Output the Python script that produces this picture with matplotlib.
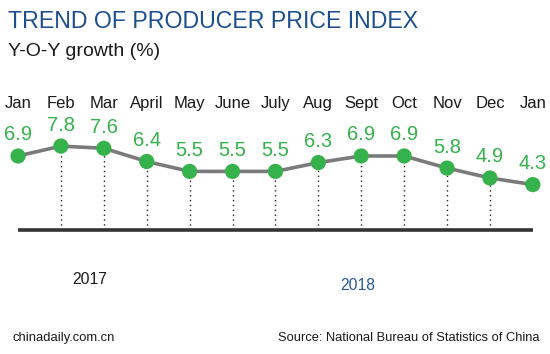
import matplotlib
matplotlib.use("Agg")
import matplotlib.pyplot as plt

months = ["Jan", "Feb", "Mar", "April", "May", "June", "July", "Aug", "Sept", "Oct", "Nov", "Dec", "Jan"]
values = [6.9, 7.8, 7.6, 6.4, 5.5, 5.5, 5.5, 6.3, 6.9, 6.9, 5.8, 4.9, 4.3]
years = ["2017", "2018"]

plt.rcParams['font.family'] = ['Liberation Sans', 'DejaVu Sans']

W, H = 550, 354
fig = plt.figure(figsize=(W / 100, H / 100), dpi=100)
ax = fig.add_axes([0, 0, 1, 1])
ax.set_xlim(-0.42, 12.40)
ax.set_ylim(-11.1, 21.08)
ax.axis('off')

green = '#35b24c'
baseline = 0.17
x = list(range(len(values)))

# dotted drop lines
for i, v in zip(x[1:-1], values[1:-1]):
    ax.plot([i, i], [baseline, v], color='#222222', lw=1.0, ls=(0, (1, 2.5)), zorder=1)

ax.plot([x[0], x[-1]], [baseline, baseline], color='#333333', lw=2.6, zorder=2, solid_capstyle='butt')
ax.plot(x, values, color='#7a7a7a', lw=2.6, zorder=3)
ax.scatter(x, values, s=120, color=green, zorder=4, edgecolors='none')

for i, (m, v) in enumerate(zip(months, values)):
    ax.text(i, 11.63, m, ha='center', va='center', fontsize=12, color='#1a1a1a')
    ax.annotate(f"{v}", (i, v), xytext=(0, 21), textcoords='offset pixels',
                ha='center', va='center', fontsize=14.5, color=green)

fig.text(8 / W, 1 - 21 / H, "TREND OF PRODUCER PRICE INDEX", fontsize=16.7,
         color='#1d4f8f', ha='left', va='center')
fig.text(8 / W, 1 - 51 / H, "Y-O-Y growth (%)", fontsize=14,
         color='#1a1a1a', ha='left', va='center')
fig.text(90 / W, 1 - 280 / H, years[0], fontsize=11.3, color='#1a1a1a', ha='center', va='center')
fig.text(358 / W, 1 - 285 / H, years[1], fontsize=11.3, color='#2a5a96', ha='center', va='center')
fig.text(12 / W, 1 - 338 / H, "chinadaily.com.cn", fontsize=9.4, color='#1a1a1a', ha='left', va='center')
fig.text(540 / W, 1 - 338 / H, "Source: National Bureau of Statistics of China", fontsize=9.3,
         color='#1a1a1a', ha='right', va='center')

fig.savefig("out.png", dpi=100, facecolor='white')
